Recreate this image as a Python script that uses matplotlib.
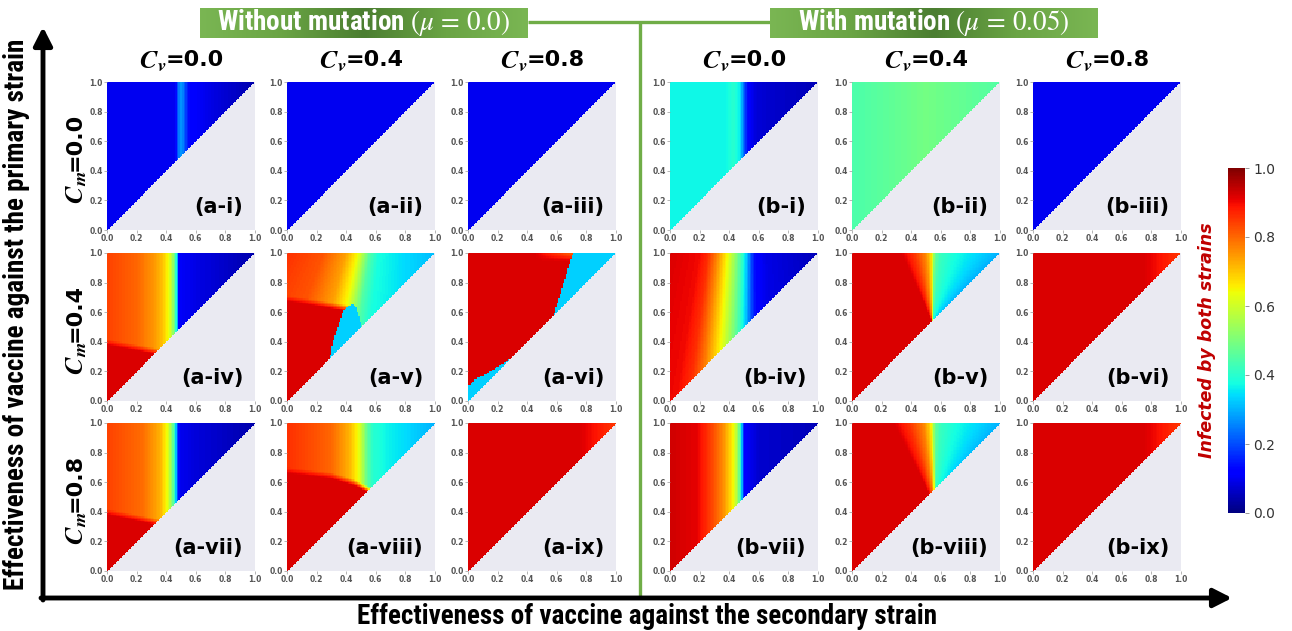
import numpy as np
import matplotlib.pyplot as plt
from matplotlib import font_manager
from matplotlib.colors import LinearSegmentedColormap

plt.rcParams['mathtext.fontset'] = 'stix'

# pick a narrow bold face for the long labels if one is installed
fonts = font_manager.fontManager.ttflist
names = {f.name for f in fonts}
narrow, narrow_stretch, narrow_scale = 'DejaVu Sans', 'normal', 0.78
for cand in ['Roboto Condensed', 'Liberation Sans Narrow', 'Open Sans Condensed']:
    if cand in names:
        narrow, narrow_scale = cand, 1.0
        break
else:
    if any(f.name == 'DejaVu Sans' and f.stretch == 'condensed' for f in fonts):
        narrow_stretch, narrow_scale = 'condensed', 0.92
    elif 'Roboto' in names:
        narrow, narrow_scale = 'Roboto', 0.9

W, H = 1292, 631

ticks = [0.0, 0.2, 0.4, 0.6, 0.8, 1.0]
cv_values = ['0.0', '0.4', '0.8']
cm_values = ['0.0', '0.4', '0.8']
roman = ['i', 'ii', 'iii', 'iv', 'v', 'vi', 'vii', 'viii', 'ix']

# colour value along the top edge of each panel: knots in x and the value there
blue_x = [0.0, 1.0]
blue_v = [0.10, 0.10]
red_x = [0.0, 0.75, 1.0]
red_v = [0.92, 0.92, 0.85]

a1_x = [0.0, 0.46, 0.475, 0.49, 0.51, 0.53, 0.56, 0.70, 1.0]
a1_v = [0.10, 0.10, 0.20, 0.27, 0.27, 0.20, 0.12, 0.09, 0.04]

a4_x = [0.0, 0.20, 0.32, 0.38, 0.42, 0.44, 0.46, 0.475, 0.485, 0.60, 1.0]
a4_v = [0.84, 0.80, 0.75, 0.70, 0.63, 0.56, 0.45, 0.30, 0.11, 0.09, 0.04]
a4_low_x = [0.0, 0.35]
a4_low_y = [0.395, 0.33]

a5_x = [0.0, 0.25, 0.40, 0.48, 0.52, 0.56, 0.62, 0.80, 1.0]
a5_v = [0.86, 0.82, 0.74, 0.64, 0.55, 0.45, 0.38, 0.34, 0.31]
a5_low_x = [0.0, 0.38, 0.45]
a5_low_y = [0.69, 0.63, 0.62]
a5_bub_y = [0.28, 0.40, 0.50, 0.58, 0.62, 0.645]
a5_bub_xl = [0.29, 0.31, 0.345, 0.37, 0.39, 0.43]
a5_edge_y = [0.50, 0.56, 0.62, 0.645]
a5_edge_x = [0.50, 0.49, 0.47, 0.45]

a6_cut_y = [0.56, 1.0]
a6_cut_x = [0.575, 0.71]
a6_foot_x = [0.0, 0.03, 0.06, 0.10, 0.20, 0.28]
a6_foot_y = [0.10, 0.13, 0.16, 0.17, 0.23, 0.28]
a6_glow_x = [0.45, 0.60, 0.70]
a6_glow_v = [0.92, 0.84, 0.78]

a7_x = [0.0, 0.25, 0.36, 0.41, 0.44, 0.46, 0.475, 0.49, 0.60, 1.0]
a7_v = [0.84, 0.79, 0.72, 0.63, 0.50, 0.38, 0.20, 0.10, 0.08, 0.04]
a7_low_x = [0.0, 0.35]
a7_low_y = [0.40, 0.33]

a8_x = [0.0, 0.30, 0.42, 0.48, 0.51, 0.54, 0.58, 0.66, 1.0]
a8_v = [0.86, 0.80, 0.72, 0.64, 0.57, 0.47, 0.40, 0.37, 0.30]
a8_low_x = [0.0, 0.30, 0.45, 0.56]
a8_low_y = [0.68, 0.645, 0.60, 0.55]

b1_x = [0.0, 0.38, 0.43, 0.47, 0.50, 0.53, 0.58, 0.65, 1.0]
b1_v = [0.37, 0.37, 0.40, 0.36, 0.22, 0.12, 0.08, 0.07, 0.05]

b2_x = [0.0, 0.50, 1.0]
b2_v = [0.44, 0.49, 0.45]

b4_x = [0.0, 0.20, 0.26, 0.32, 0.37, 0.40, 0.44, 0.48, 0.52, 0.55, 0.58, 0.65, 1.0]
b4_v = [0.92, 0.90, 0.86, 0.77, 0.68, 0.62, 0.53, 0.43, 0.32, 0.20, 0.12, 0.09, 0.05]

b5_x = [0.0, 0.33, 0.42, 0.50, 0.535, 0.548, 0.56, 0.60, 0.70, 0.85, 1.0]
b5_v = [0.92, 0.92, 0.85, 0.76, 0.68, 0.60, 0.48, 0.42, 0.38, 0.34, 0.30]

b7_x = [0.0, 0.18, 0.28, 0.36, 0.42, 0.45, 0.47, 0.485, 0.50, 0.60, 1.0]
b7_v = [0.93, 0.91, 0.84, 0.76, 0.66, 0.57, 0.46, 0.30, 0.12, 0.07, 0.05]

b8_x = [0.0, 0.28, 0.38, 0.48, 0.53, 0.545, 0.56, 0.60, 0.70, 0.85, 1.0]
b8_v = [0.92, 0.92, 0.86, 0.77, 0.68, 0.60, 0.48, 0.42, 0.38, 0.34, 0.30]

N = 100
g = (np.arange(N) + 0.5) / N
X, Y = np.meshgrid(g, g)


def top_profile(px, pv, focus=None):
    # contours run along lines through the focus point, the profile is read on y = 1
    if focus is None:
        return np.interp(X, px, pv)
    fx, fy = focus
    d = Y - fy
    with np.errstate(divide='ignore', invalid='ignore'):
        xt = fx + (X - fx) * (1 - fy) / d
    if fy < 1:
        xt = np.where(d <= 0.005, np.where(X < fx, -1.0, 2.0), xt)
    return np.interp(xt, px, pv)


def field(px, pv, focus=None, low=None, low_v=0.92):
    z = top_profile(px, pv, focus)
    if low is not None:
        yb = np.interp(X, low[0], low[1])
        w = np.clip((Y - yb) / 0.04 + 0.5, 0, 1)
        z = low_v * (1 - w) + z * w
    return z


fields = {}
fields['a-i'] = field(a1_x, a1_v)
fields['a-ii'] = field(blue_x, blue_v)
fields['a-iii'] = field(blue_x, blue_v)
fields['a-iv'] = field(a4_x, a4_v, low=(a4_low_x, a4_low_y))

z = field(a5_x, a5_v, focus=(0.8, 2.5), low=(a5_low_x, a5_low_y))
zt = top_profile(a5_x, a5_v, focus=(0.8, 2.5))
inside = (Y < 0.66) & (X > np.interp(Y, a5_bub_y, a5_bub_xl))
bubble = X < np.interp(Y, a5_edge_y, a5_edge_x, left=1.0, right=0.0)
z = np.where(inside, np.where(bubble, 0.33, zt), z)
fields['a-v'] = z

z = np.full_like(X, 0.92)
glow = np.clip((Y - 0.94) / 0.06, 0, 1)
z = z * (1 - glow) + np.interp(X, a6_glow_x, a6_glow_v) * glow
z = np.where((Y > a6_cut_y[0]) & (X > np.interp(Y, a6_cut_y, a6_cut_x)), 0.33, z)
z = np.where((X < a6_foot_x[-1]) & (Y < np.interp(X, a6_foot_x, a6_foot_y)), 0.33, z)
fields['a-vi'] = z

fields['a-vii'] = field(a7_x, a7_v, low=(a7_low_x, a7_low_y))
fields['a-viii'] = field(a8_x, a8_v, low=(a8_low_x, a8_low_y))
fields['a-ix'] = field(red_x, red_v)

fields['b-i'] = field(b1_x, b1_v)
fields['b-ii'] = field(b2_x, b2_v)
fields['b-iii'] = field(blue_x, blue_v)
fields['b-iv'] = field(b4_x, b4_v, focus=(0.55, 3.2))
fields['b-v'] = field(b5_x, b5_v, focus=(0.545, 0.53))
fields['b-vi'] = field(red_x, red_v)
fields['b-vii'] = field(b7_x, b7_v)
fields['b-viii'] = field(b8_x, b8_v, focus=(0.56, 0.45))
fields['b-ix'] = field(red_x, red_v)

fig = plt.figure(figsize=(W / 100, H / 100), dpi=100)


def px_axes(left, top, w, h, **kw):
    return fig.add_axes([left / W, 1 - (top + h) / H, w / W, h / H], **kw)


col_left = {'a': [107, 287, 468], 'b': [670, 852, 1033]}
row_top = [82, 253, 423]
size = 148

im = None
for group in ['a', 'b']:
    for r in range(3):
        for c in range(3):
            tag = f'{group}-{roman[3 * r + c]}'
            ax = px_axes(col_left[group][c], row_top[r], size, size)
            ax.set_facecolor('#eaeaf2')
            z = np.where(Y >= X, fields[tag], np.nan)
            im = ax.imshow(z, origin='lower', extent=[0, 1, 0, 1], cmap='jet',
                           vmin=0, vmax=1, interpolation='nearest', aspect='auto')
            ax.set_xlim(0, 1)
            ax.set_ylim(0, 1)
            ax.set_xticks(ticks)
            ax.set_yticks(ticks)
            ax.set_xticklabels([f'{t:.1f}' for t in ticks])
            ax.set_yticklabels([f'{t:.1f}' for t in ticks])
            ax.tick_params(length=2, width=0.5, color='#999999', pad=1,
                           labelsize=5.5, labelcolor='#555555')
            for lab in ax.get_xticklabels() + ax.get_yticklabels():
                lab.set_fontweight('bold')
            for s in ax.spines.values():
                s.set_visible(False)
            ax.text(0.92, 0.155, f'({tag})', transform=ax.transAxes, ha='right',
                    va='center', fontsize=15, fontweight='bold', color='black')

cax = px_axes(1228, 168, 17, 345)
cb = fig.colorbar(im, cax=cax, ticks=ticks)
cb.outline.set_visible(False)
cb.ax.tick_params(length=3, width=0.6, color='#888888', labelsize=10,
                  labelcolor='#333333', pad=3)
cb.ax.set_yticklabels([f'{t:.1f}' for t in ticks])

# overlay in pixel coordinates for arrows, frames and labels
ov = fig.add_axes([0, 0, 1, 1], zorder=5)
ov.axis('off')

green = '#70ad47'
ov.plot([528, 770], [22, 22], color=green, lw=2.4, solid_capstyle='butt')
ov.plot([640, 640], [22, 599], color=green, lw=2.4, solid_capstyle='butt')

banner = LinearSegmentedColormap.from_list('banner', ['#4b7e31', '#6aa444', '#7ab653'])
shade = np.abs(np.linspace(-1, 1, 200))[None, :]
for x0, x1, label in [(200, 528, r'Without mutation $(\mu\,=\,0.0)$'),
                      (770, 1098, r'With mutation $(\mu\,=\,0.05)$')]:
    ov.imshow(shade, extent=[x0, x1, 38, 8], cmap=banner, vmin=0, vmax=1,
              aspect='auto', zorder=2)
    ov.text((x0 + x1) / 2, 23, label, ha='center', va='center', color='white',
            fontsize=19.5 * narrow_scale, fontweight='bold', family=narrow,
            fontstretch=narrow_stretch, zorder=3)

arrow = dict(arrowstyle='-|>,head_length=0.55,head_width=0.28', lw=3.5,
             color='black', shrinkA=0, shrinkB=0, mutation_scale=20)
ov.annotate('', xy=(43, 27), xytext=(43, 600), arrowprops=arrow)
ov.annotate('', xy=(1232, 598), xytext=(41, 598), arrowprops=arrow)

ov.text(647, 617, 'Effectiveness of vaccine against the secondary strain',
        ha='center', va='center', fontsize=19.5 * narrow_scale, fontweight='bold',
        family=narrow, fontstretch=narrow_stretch)
ov.text(17, 314, 'Effectiveness of vaccine against the primary strain',
        ha='center', va='center', rotation=90, fontsize=19.5 * narrow_scale,
        fontweight='bold', family=narrow, fontstretch=narrow_stretch)

# C_v / C_m headers: italic symbol slightly larger than the value that follows
for group in ['a', 'b']:
    for c in range(3):
        cx = col_left[group][c] + size / 2
        ov.text(cx - 15, 61, r'$\mathbfit{C_v}$', ha='right', va='center', fontsize=19)
        ov.text(cx - 15, 60, '=' + cv_values[c], ha='left', va='center',
                fontsize=16, fontweight='bold')
for r in range(3):
    cy = row_top[r] + size / 2
    ov.text(76, cy + 15, r'$\mathbfit{C_m}$', ha='center', va='top', rotation=90,
            fontsize=19)
    ov.text(75, cy + 15, '=' + cm_values[r], ha='center', va='bottom', rotation=90,
            fontsize=16, fontweight='bold')

ov.text(1207, 340, 'Infected by both strains', ha='center', va='center',
        rotation=90, color='#c00000', fontsize=12.5, fontweight='bold',
        fontstyle='italic')

ov.set_xlim(0, W)
ov.set_ylim(H, 0)

fig.savefig('out.png', dpi=100)
